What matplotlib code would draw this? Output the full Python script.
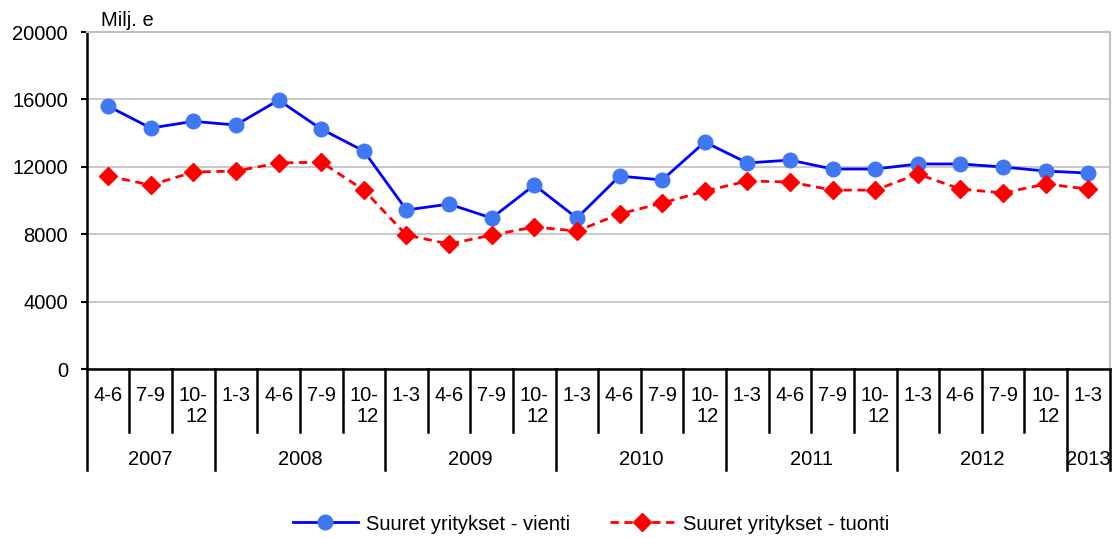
import numpy as np
import matplotlib.pyplot as plt
from matplotlib.transforms import blended_transform_factory
from matplotlib.lines import Line2D

plt.rcParams['font.family'] = ['Liberation Sans', 'DejaVu Sans']

quarters = ['4-6', '7-9', '10-\n12',
            '1-3', '4-6', '7-9', '10-\n12',
            '1-3', '4-6', '7-9', '10-\n12',
            '1-3', '4-6', '7-9', '10-\n12',
            '1-3', '4-6', '7-9', '10-\n12',
            '1-3', '4-6', '7-9', '10-\n12',
            '1-3']
years = ['2007', '2008', '2009', '2010', '2011', '2012', '2013']
year_counts = [3, 4, 4, 4, 4, 4, 1]

vienti = [15600, 14300, 14700, 14480, 15960, 14240, 12940,
          9440, 9790, 8960, 10920,
          8960, 11450, 11220, 13470,
          12230, 12400, 11870, 11870,
          12170, 12170, 11990, 11750,
          11630]
tuonti = [11450, 10920, 11690, 11750, 12230, 12280, 10620,
          7950, 7420, 7950, 8430,
          8190, 9200, 9850, 10560,
          11160, 11100, 10620, 10620,
          11570, 10680, 10450, 10980,
          10680]

FS = 14.5


def main():
    fig = plt.figure(figsize=(11.13, 5.38), dpi=100)
    ax = fig.add_axes([0.078, 0.314, 0.919, 0.6265])
    n = len(quarters)
    x = np.arange(n)

    ax.plot(x, vienti, color='#0000FF', lw=2, marker='o', ms=10.5,
            mfc='#3F78F2', mec='#3F78F2', label='Suuret yritykset - vienti', zorder=3)
    ax.plot(x, tuonti, color='#FF0000', lw=2, ls=(0, (3, 2)), marker='D', ms=9,
            mfc='#FF0000', mec='#FF0000', label='Suuret yritykset - tuonti', zorder=3)

    ax.set_xlim(-0.5, n - 0.5)
    ax.set_ylim(0, 20000)
    ax.set_yticks(np.arange(0, 20001, 4000))
    ax.tick_params(axis='y', labelsize=FS, length=4.5, width=1.5, direction='out', pad=9)
    ax.set_xticks([])
    ax.grid(axis='y', color='#C0C0C0', lw=1.2)
    ax.set_axisbelow(True)
    for s in ['top', 'right']:
        ax.spines[s].set_color('#C0C0C0')
        ax.spines[s].set_linewidth(1.5)
    for s in ['left', 'bottom']:
        ax.spines[s].set_color('black')
        ax.spines[s].set_linewidth(1.8)

    # multi-level category axis
    tr = blended_transform_factory(ax.transData, ax.transAxes)
    q_low = -0.187
    y_low = -0.30
    for i, q in enumerate(quarters):
        ax.text(i, -0.05, q, transform=tr, ha='center', va='top',
                multialignment='right', fontsize=FS, linespacing=1.15)
    boundaries = np.cumsum([0] + year_counts) - 0.5
    for b in np.arange(n + 1) - 0.5:
        bottom = y_low if b in boundaries else q_low
        ax.add_line(Line2D([b, b], [0, bottom], transform=tr, color='black',
                           lw=1.8, clip_on=False))
    for yr, lo, hi in zip(years, boundaries[:-1], boundaries[1:]):
        ax.text((lo + hi) / 2, -0.268, yr, transform=tr, ha='center', va='center',
                fontsize=FS)

    ax.text(0.014, 1.005, 'Milj. e', transform=ax.transAxes, ha='left', va='bottom',
            fontsize=FS)

    fig.legend(loc='center', bbox_to_anchor=(0.531, 0.026), ncol=2, frameon=False,
               fontsize=FS, handlelength=3.2, columnspacing=2.0, handletextpad=0.4)

    fig.savefig('out.png', dpi=100)


if __name__ == '__main__':
    main()
